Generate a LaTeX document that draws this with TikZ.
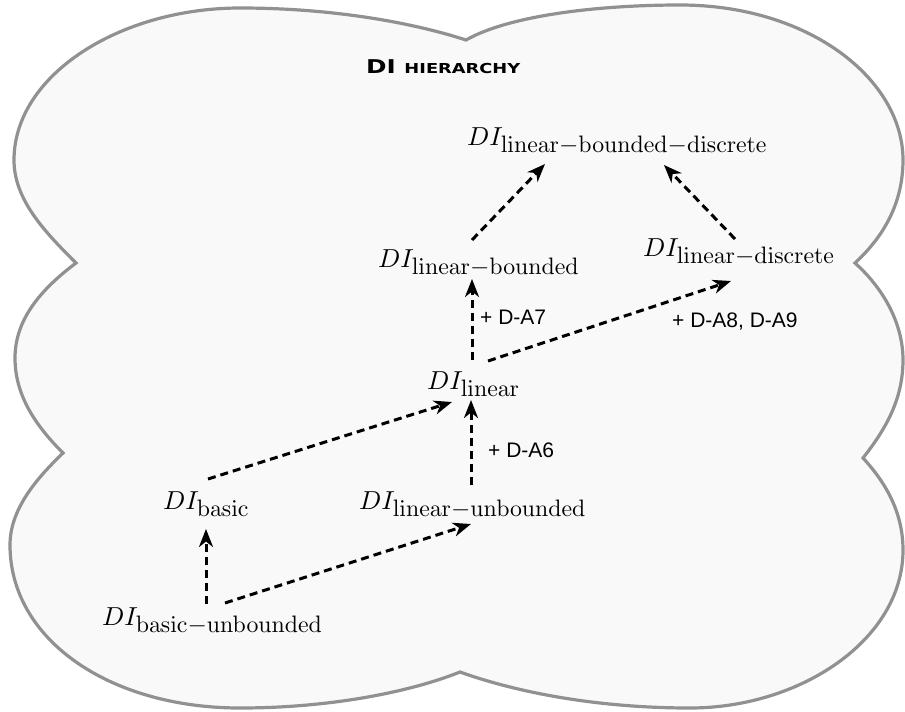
\documentclass[tikz,border=0pt]{standalone}
\usepackage[no-math]{fontspec}
\usetikzlibrary{arrows.meta}
\newfontfamily\labelfont{Liberation Sans}
\newfontfamily\titlefont{DejaVu Sans}[FakeStretch=1.3]
% keep the 10pt design proportions at every size
\DeclareFontShape{OT1}{cmr}{m}{n}{<-> cmr10}{}
\DeclareFontShape{OML}{cmm}{m}{it}{<-> cmmi10}{}
\DeclareMathSizes{26}{26}{23.8}{17}
\definecolor{cloudfill}{RGB}{249,249,249}
\definecolor{cloudedge}{RGB}{145,145,145}
\tikzset{
  lvl/.style={inner sep=0pt, anchor=base west, font=\fontsize{26}{30}\selectfont},
  axnote/.style={inner sep=0pt, anchor=base west, font=\labelfont\fontsize{21}{25}\selectfont},
  dep/.style={draw=black, line width=3pt, dash pattern=on 8pt off 5pt,
    -{Stealth[length=18pt,width=14pt,inset=5.5pt]}},
  cloudline/.style={draw=cloudedge, fill=cloudfill, line width=3.2pt, line join=miter}
}
\begin{document}
\begin{tikzpicture}[x=1pt,y=-1pt]
\useasboundingbox (0,0) rectangle (905,712);

% cloud outline
\path[cloudline]
  (76,263) .. controls (45,232) and (14,200) .. (14,160)
  .. controls (14,75) and (120,8) .. (240,8)
  .. controls (340,8) and (420,25) .. (466,40)
  .. controls (510,15) and (600,5) .. (680,5)
  .. controls (810,5) and (903,80) .. (903,160)
  .. controls (903,205) and (882,238) .. (855,263)
  .. controls (885,290) and (903,325) .. (903,360)
  .. controls (903,400) and (885,430) .. (863,458)
  .. controls (888,485) and (903,515) .. (903,550)
  .. controls (903,640) and (800,708) .. (690,708)
  .. controls (590,708) and (510,690) .. (460,672)
  .. controls (410,692) and (330,708) .. (240,708)
  .. controls (110,708) and (10,640) .. (10,545)
  .. controls (10,510) and (35,480) .. (63,453)
  .. controls (35,425) and (15,395) .. (15,358)
  .. controls (15,320) and (40,290) .. (76,263) -- cycle;

% title
\node[inner sep=0pt, anchor=base west] (title) at (366,73)
  {\titlefont\bfseries\fontsize{19}{22}\selectfont DI {\fontsize{13.7}{16}\selectfont HIERARCHY}};

% levels of the hierarchy
\node[lvl] (lbd)   at (467,145) {$DI_{\mathrm{linear-bounded-discrete}}$};
\node[lvl] (lb)    at (378,267) {$DI_{\mathrm{linear-bounded}}$};
\node[lvl] (ld)    at (643,256) {$DI_{\mathrm{linear-discrete}}$};
\node[lvl] (lin)   at (427,389) {$DI_{\mathrm{linear}}$};
\node[lvl] (basic) at (163,509) {$DI_{\mathrm{basic}}$};
\node[lvl] (lu)    at (359,509) {$DI_{\mathrm{linear-unbounded}}$};
\node[lvl] (bu)    at (102,625) {$DI_{\mathrm{basic-unbounded}}$};

% added axioms
\node[axnote] (a7)  at (480,324) {+ D-A7};
\node[axnote] (a6)  at (488,457) {+ D-A6};
\node[axnote] (a89) at (672,327) {+ D-A8, D-A9};

% extensions
\draw[dep] ([shift={(104,-21)}]bu.base west)    -- ([shift={(43,20)}]basic.base west);
\draw[dep] ([shift={(123,-22)}]bu.base west)    -- ([shift={(112,15)}]lu.base west);
\draw[dep] ([shift={(45,-30)}]basic.base west)  -- ([shift={(25,13)}]lin.base west);
\draw[dep] ([shift={(112,-24)}]lu.base west)    -- ([shift={(44,11)}]lin.base west);
\draw[dep] ([shift={(45,-29)}]lin.base west)    -- ([shift={(94,12)}]lb.base west);
\draw[dep] ([shift={(61,-28)}]lin.base west)    -- ([shift={(88,25)}]ld.base west);
\draw[dep] ([shift={(94,-27)}]lb.base west)     -- ([shift={(78,19)}]lbd.base west);
\draw[dep] ([shift={(92,-17)}]ld.base west)     -- ([shift={(197,20)}]lbd.base west);
\end{tikzpicture}
\end{document}
